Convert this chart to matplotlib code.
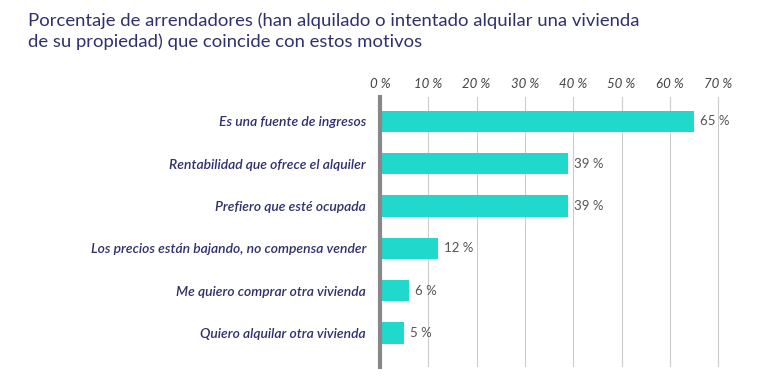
import matplotlib
matplotlib.use('Agg')
import matplotlib.pyplot as plt

# Datos
motivos = [
    'Es una fuente de ingresos',
    'Rentabilidad que ofrece el alquiler',
    'Prefiero que esté ocupada',
    'Los precios están bajando, no compensa vender',
    'Me quiero comprar otra vivienda',
    'Quiero alquilar otra vivienda',
]
porcentajes = [65, 39, 39, 12, 6, 5]
ticks = [0, 10, 20, 30, 40, 50, 60, 70]

navy = '#2e3070'
bar_color = '#20d9cc'

plt.rcParams['font.family'] = ['Lato', 'DejaVu Sans']

fig = plt.figure(figsize=(7.68, 3.79), dpi=100)
ax = fig.add_axes([380 / 768, 1 - 367 / 379, 343 / 768, 270 / 379])

y = list(range(len(motivos)))
ax.barh(y, porcentajes, height=0.5, color=bar_color, zorder=3)

for yi, v in zip(y, porcentajes):
    ax.text(v + 1.2, yi, '{} %'.format(v), va='center', ha='left',
            fontsize=9.5, color='#555555', zorder=4)

ax.set_xlim(0, 71)
ax.set_ylim(5.8, -0.57)
ax.set_xticks(ticks)
ax.set_xticklabels(['{} %'.format(t) for t in ticks], fontsize=9.5,
                   color='#444444', style='italic')
ax.xaxis.tick_top()
ax.tick_params(axis='x', length=0, pad=5)
ax.grid(axis='x', color='#cccccc', linewidth=0.8, zorder=0)

ax.set_yticks(y)
ax.set_yticklabels(motivos, fontsize=10, color=navy, style='italic',
                   fontweight='semibold')
ax.tick_params(axis='y', length=0, pad=10)

for side in ['top', 'right', 'bottom']:
    ax.spines[side].set_visible(False)
ax.spines['left'].set_color('#888888')
ax.spines['left'].set_linewidth(3)
ax.spines['left'].set_zorder(5)

fig.text(28 / 768, 1 - 31 / 379,
         'Porcentaje de arrendadores (han alquilado o intentado alquilar una vivienda\n'
         'de su propiedad) que coincide con estos motivos',
         fontsize=13.3, color=navy, va='center', ha='left', linespacing=1.35)

fig.savefig('out.png', dpi=100, facecolor='white')
